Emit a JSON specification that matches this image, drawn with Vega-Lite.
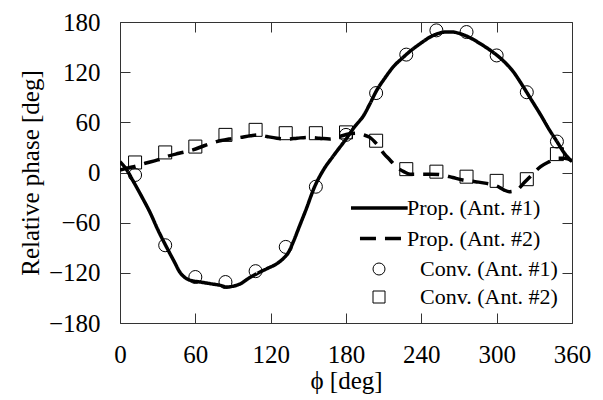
{
  "$schema": "https://vega.github.io/schema/vega-lite/v6.json",
  "width": 452,
  "height": 301,
  "autosize": {"type": "none"},
  "padding": {"left": 120, "top": 22, "right": 31, "bottom": 77},
  "background": "white",
  "config": {
    "font": "Liberation Serif",
    "view": {"stroke": null},
    "axis": {"grid": false, "domainColor": "#333", "tickColor": "#333", "labelColor": "black", "titleColor": "black", "labelFont": "Liberation Serif", "titleFont": "Liberation Serif", "titleFontWeight": "normal"}
  },
  "data": {
    "values": [
      {"series": "Prop. (Ant. #1)", "phi": 0, "phase": 13},
      {"series": "Prop. (Ant. #1)", "phi": 5, "phase": 4},
      {"series": "Prop. (Ant. #1)", "phi": 10, "phase": -9},
      {"series": "Prop. (Ant. #1)", "phi": 17, "phase": -28},
      {"series": "Prop. (Ant. #1)", "phi": 24, "phase": -48},
      {"series": "Prop. (Ant. #1)", "phi": 30, "phase": -68},
      {"series": "Prop. (Ant. #1)", "phi": 37, "phase": -89},
      {"series": "Prop. (Ant. #1)", "phi": 43, "phase": -106},
      {"series": "Prop. (Ant. #1)", "phi": 48, "phase": -120},
      {"series": "Prop. (Ant. #1)", "phi": 52, "phase": -126},
      {"series": "Prop. (Ant. #1)", "phi": 56, "phase": -129},
      {"series": "Prop. (Ant. #1)", "phi": 64, "phase": -131},
      {"series": "Prop. (Ant. #1)", "phi": 72, "phase": -133},
      {"series": "Prop. (Ant. #1)", "phi": 80, "phase": -135},
      {"series": "Prop. (Ant. #1)", "phi": 85, "phase": -137},
      {"series": "Prop. (Ant. #1)", "phi": 90, "phase": -136},
      {"series": "Prop. (Ant. #1)", "phi": 96, "phase": -133},
      {"series": "Prop. (Ant. #1)", "phi": 102, "phase": -127},
      {"series": "Prop. (Ant. #1)", "phi": 109, "phase": -121},
      {"series": "Prop. (Ant. #1)", "phi": 117, "phase": -115},
      {"series": "Prop. (Ant. #1)", "phi": 125, "phase": -109},
      {"series": "Prop. (Ant. #1)", "phi": 130, "phase": -103},
      {"series": "Prop. (Ant. #1)", "phi": 134, "phase": -96},
      {"series": "Prop. (Ant. #1)", "phi": 138, "phase": -83},
      {"series": "Prop. (Ant. #1)", "phi": 143, "phase": -64},
      {"series": "Prop. (Ant. #1)", "phi": 148, "phase": -45},
      {"series": "Prop. (Ant. #1)", "phi": 155, "phase": -17},
      {"series": "Prop. (Ant. #1)", "phi": 162, "phase": 3},
      {"series": "Prop. (Ant. #1)", "phi": 170, "phase": 20},
      {"series": "Prop. (Ant. #1)", "phi": 180, "phase": 40},
      {"series": "Prop. (Ant. #1)", "phi": 187, "phase": 55},
      {"series": "Prop. (Ant. #1)", "phi": 194, "phase": 68},
      {"series": "Prop. (Ant. #1)", "phi": 199, "phase": 82},
      {"series": "Prop. (Ant. #1)", "phi": 204, "phase": 97},
      {"series": "Prop. (Ant. #1)", "phi": 211, "phase": 113},
      {"series": "Prop. (Ant. #1)", "phi": 218, "phase": 127},
      {"series": "Prop. (Ant. #1)", "phi": 225, "phase": 137},
      {"series": "Prop. (Ant. #1)", "phi": 231, "phase": 145},
      {"series": "Prop. (Ant. #1)", "phi": 239, "phase": 154},
      {"series": "Prop. (Ant. #1)", "phi": 247, "phase": 162},
      {"series": "Prop. (Ant. #1)", "phi": 253, "phase": 166},
      {"series": "Prop. (Ant. #1)", "phi": 259, "phase": 168},
      {"series": "Prop. (Ant. #1)", "phi": 265, "phase": 168},
      {"series": "Prop. (Ant. #1)", "phi": 271, "phase": 166},
      {"series": "Prop. (Ant. #1)", "phi": 279, "phase": 161},
      {"series": "Prop. (Ant. #1)", "phi": 287, "phase": 154},
      {"series": "Prop. (Ant. #1)", "phi": 296, "phase": 145},
      {"series": "Prop. (Ant. #1)", "phi": 305, "phase": 134},
      {"series": "Prop. (Ant. #1)", "phi": 313, "phase": 121},
      {"series": "Prop. (Ant. #1)", "phi": 321, "phase": 103},
      {"series": "Prop. (Ant. #1)", "phi": 328, "phase": 86},
      {"series": "Prop. (Ant. #1)", "phi": 335, "phase": 69},
      {"series": "Prop. (Ant. #1)", "phi": 342, "phase": 51},
      {"series": "Prop. (Ant. #1)", "phi": 348, "phase": 37},
      {"series": "Prop. (Ant. #1)", "phi": 354, "phase": 23},
      {"series": "Prop. (Ant. #1)", "phi": 360, "phase": 13},

      {"series": "Prop. (Ant. #2)", "phi": 0, "phase": 3},
      {"series": "Prop. (Ant. #2)", "phi": 5, "phase": 5},
      {"series": "Prop. (Ant. #2)", "phi": 11, "phase": 7},
      {"series": "Prop. (Ant. #2)", "phi": 20, "phase": 11},
      {"series": "Prop. (Ant. #2)", "phi": 30, "phase": 15},
      {"series": "Prop. (Ant. #2)", "phi": 37, "phase": 19},
      {"series": "Prop. (Ant. #2)", "phi": 47, "phase": 23},
      {"series": "Prop. (Ant. #2)", "phi": 58, "phase": 27},
      {"series": "Prop. (Ant. #2)", "phi": 67, "phase": 32},
      {"series": "Prop. (Ant. #2)", "phi": 77, "phase": 37},
      {"series": "Prop. (Ant. #2)", "phi": 87, "phase": 40},
      {"series": "Prop. (Ant. #2)", "phi": 96, "phase": 42},
      {"series": "Prop. (Ant. #2)", "phi": 104, "phase": 44},
      {"series": "Prop. (Ant. #2)", "phi": 110, "phase": 45},
      {"series": "Prop. (Ant. #2)", "phi": 117, "phase": 43},
      {"series": "Prop. (Ant. #2)", "phi": 125, "phase": 41},
      {"series": "Prop. (Ant. #2)", "phi": 133, "phase": 40},
      {"series": "Prop. (Ant. #2)", "phi": 141, "phase": 41},
      {"series": "Prop. (Ant. #2)", "phi": 149, "phase": 42},
      {"series": "Prop. (Ant. #2)", "phi": 159, "phase": 41},
      {"series": "Prop. (Ant. #2)", "phi": 167, "phase": 40},
      {"series": "Prop. (Ant. #2)", "phi": 175, "phase": 43},
      {"series": "Prop. (Ant. #2)", "phi": 182, "phase": 46},
      {"series": "Prop. (Ant. #2)", "phi": 188, "phase": 47},
      {"series": "Prop. (Ant. #2)", "phi": 194, "phase": 45},
      {"series": "Prop. (Ant. #2)", "phi": 199, "phase": 42},
      {"series": "Prop. (Ant. #2)", "phi": 205, "phase": 33},
      {"series": "Prop. (Ant. #2)", "phi": 210, "phase": 23},
      {"series": "Prop. (Ant. #2)", "phi": 215, "phase": 15},
      {"series": "Prop. (Ant. #2)", "phi": 220, "phase": 7},
      {"series": "Prop. (Ant. #2)", "phi": 226, "phase": 1},
      {"series": "Prop. (Ant. #2)", "phi": 231, "phase": -2},
      {"series": "Prop. (Ant. #2)", "phi": 240, "phase": -2},
      {"series": "Prop. (Ant. #2)", "phi": 247, "phase": -2},
      {"series": "Prop. (Ant. #2)", "phi": 257, "phase": -3},
      {"series": "Prop. (Ant. #2)", "phi": 265, "phase": -6},
      {"series": "Prop. (Ant. #2)", "phi": 273, "phase": -9},
      {"series": "Prop. (Ant. #2)", "phi": 283, "phase": -11},
      {"series": "Prop. (Ant. #2)", "phi": 292, "phase": -13},
      {"series": "Prop. (Ant. #2)", "phi": 300, "phase": -16},
      {"series": "Prop. (Ant. #2)", "phi": 306, "phase": -21},
      {"series": "Prop. (Ant. #2)", "phi": 310, "phase": -23},
      {"series": "Prop. (Ant. #2)", "phi": 316, "phase": -21},
      {"series": "Prop. (Ant. #2)", "phi": 322, "phase": -12},
      {"series": "Prop. (Ant. #2)", "phi": 328, "phase": -3},
      {"series": "Prop. (Ant. #2)", "phi": 335, "phase": 7},
      {"series": "Prop. (Ant. #2)", "phi": 342, "phase": 13},
      {"series": "Prop. (Ant. #2)", "phi": 348, "phase": 17},
      {"series": "Prop. (Ant. #2)", "phi": 354, "phase": 17},
      {"series": "Prop. (Ant. #2)", "phi": 360, "phase": 14},

      {"series": "Conv. (Ant. #1)", "phi": 12, "phase": -3},
      {"series": "Conv. (Ant. #1)", "phi": 36, "phase": -87},
      {"series": "Conv. (Ant. #1)", "phi": 60, "phase": -125},
      {"series": "Conv. (Ant. #1)", "phi": 84, "phase": -131},
      {"series": "Conv. (Ant. #1)", "phi": 108, "phase": -118},
      {"series": "Conv. (Ant. #1)", "phi": 132, "phase": -89},
      {"series": "Conv. (Ant. #1)", "phi": 156, "phase": -17},
      {"series": "Conv. (Ant. #1)", "phi": 180, "phase": 45},
      {"series": "Conv. (Ant. #1)", "phi": 204, "phase": 95},
      {"series": "Conv. (Ant. #1)", "phi": 228, "phase": 141},
      {"series": "Conv. (Ant. #1)", "phi": 252, "phase": 170},
      {"series": "Conv. (Ant. #1)", "phi": 276, "phase": 168},
      {"series": "Conv. (Ant. #1)", "phi": 300, "phase": 140},
      {"series": "Conv. (Ant. #1)", "phi": 324, "phase": 96},
      {"series": "Conv. (Ant. #1)", "phi": 348, "phase": 37},

      {"series": "Conv. (Ant. #2)", "phi": 12, "phase": 12},
      {"series": "Conv. (Ant. #2)", "phi": 36, "phase": 24},
      {"series": "Conv. (Ant. #2)", "phi": 60, "phase": 31},
      {"series": "Conv. (Ant. #2)", "phi": 84, "phase": 45},
      {"series": "Conv. (Ant. #2)", "phi": 108, "phase": 51},
      {"series": "Conv. (Ant. #2)", "phi": 132, "phase": 47},
      {"series": "Conv. (Ant. #2)", "phi": 156, "phase": 47},
      {"series": "Conv. (Ant. #2)", "phi": 180, "phase": 48},
      {"series": "Conv. (Ant. #2)", "phi": 204, "phase": 38},
      {"series": "Conv. (Ant. #2)", "phi": 228, "phase": 4},
      {"series": "Conv. (Ant. #2)", "phi": 252, "phase": 1},
      {"series": "Conv. (Ant. #2)", "phi": 276, "phase": -5},
      {"series": "Conv. (Ant. #2)", "phi": 300, "phase": -10},
      {"series": "Conv. (Ant. #2)", "phi": 324, "phase": -8},
      {"series": "Conv. (Ant. #2)", "phi": 348, "phase": 22}
    ]
  },
  "layer": [
    {
      "transform": [{"filter": "indexof(datum.series, 'Prop') === 0"}],
      "mark": {"type": "line", "interpolate": "monotone", "color": "black", "strokeWidth": 3.5, "clip": true},
      "encoding": {
        "x": {"field": "phi", "type": "quantitative", "scale": {"domain": [0, 360], "nice": false},
          "axis": {"orient": "bottom", "values": [0, 60, 120, 180, 240, 300, 360], "tickSize": -10, "labelPadding": 49, "labelBaseline": "alphabetic", "labelFontSize": 25, "labelFlush": false,
            "title": "ϕ [deg]", "titleFontSize": 25, "titleBaseline": "alphabetic", "titleY": 65, "titleX": 226}},
        "y": {"field": "phase", "type": "quantitative", "scale": {"domain": [-180, 180], "nice": false},
          "axis": {"orient": "left", "values": [-180, -120, -60, 0, 60, 120, 180], "tickSize": -10, "labelPadding": 30, "labelFontSize": 25,
            "title": "Relative phase [deg]", "titleFontSize": 25, "titleX": -77, "titleY": 150.5, "titleAngle": -90, "titleBaseline": "bottom", "titleAlign": "center"}},
        "strokeDash": {"field": "series", "type": "nominal",
          "scale": {"domain": ["Prop. (Ant. #1)", "Prop. (Ant. #2)"], "range": [[1, 0], [16, 9]]},
          "legend": {
            "title": null, "orient": "none", "legendX": 248, "legendY": 175, "padding": 0,
            "symbolType": "M-4.67,0L4.78,0", "symbolSize": 144, "symbolStrokeWidth": 3.5, "symbolStrokeColor": "black", "symbolFillColor": "transparent", "symbolOpacity": 1, "symbolDashOffset": 16,
            "labelFontSize": 22, "labelOffset": 17, "rowPadding": 8.5, "labelColor": "black", "labelLimit": 300
          }
        },
        "detail": {"field": "series"}
      }
    },
    {
      "transform": [{"filter": "indexof(datum.series, 'Conv') === 0"}],
      "mark": {"type": "point", "filled": false, "color": "black", "size": 169, "opacity": 1, "strokeWidth": 1},
      "encoding": {
        "x": {"field": "phi", "type": "quantitative", "axis": {"orient": "top", "values": [0, 60, 120, 180, 240, 300, 360], "tickSize": -10, "labels": false, "title": null}},
        "y": {"field": "phase", "type": "quantitative", "axis": {"orient": "right", "values": [-180, -120, -60, 0, 60, 120, 180], "tickSize": -10, "labels": false, "title": null}},
        "shape": {"field": "series", "type": "nominal",
          "scale": {"domain": ["Conv. (Ant. #1)", "Conv. (Ant. #2)"], "range": ["circle", "square"]},
          "legend": {
            "title": null, "orient": "none", "legendX": 248, "legendY": 236, "padding": 0,
            "symbolSize": 144, "symbolFillColor": "transparent", "symbolStrokeColor": "black", "symbolStrokeWidth": 1, "symbolOpacity": 1,
            "labelFontSize": 22, "labelOffset": 30, "rowPadding": 6, "labelColor": "black", "labelLimit": 300
          }
        }
      }
    }
  ],
  "resolve": {"axis": {"x": "independent", "y": "independent"}}
}
